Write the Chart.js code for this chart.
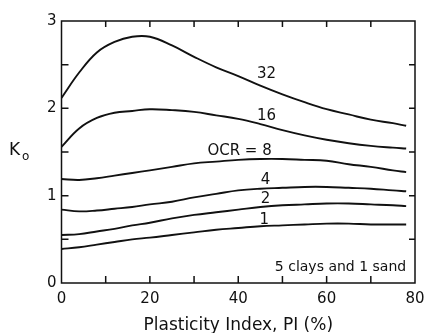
<!DOCTYPE html>
<html>
<head>
<meta charset="utf-8">
<script src="https://cdn.jsdelivr.net/npm/chart.js@4.4.1/dist/chart.umd.min.js"></script>
<style>
  body { margin: 0; background: #fff; }
  canvas { display: block; }
</style>
</head>
<body>
<canvas id="chart" width="425" height="333"></canvas>
<script>
// plasticity index (%) where each curve was read
const piValues = [0, 4, 8, 12, 16, 20, 25, 30, 35, 40, 45, 50, 55, 60, 65, 70, 75, 78];

// K0 for each OCR
const k0Ocr1  = [0.39, 0.41, 0.44, 0.47, 0.50, 0.52, 0.55, 0.58, 0.61, 0.63, 0.65, 0.66, 0.67, 0.68, 0.68, 0.67, 0.67, 0.67];
const k0Ocr2  = [0.55, 0.56, 0.59, 0.62, 0.66, 0.69, 0.74, 0.78, 0.81, 0.84, 0.87, 0.89, 0.90, 0.91, 0.91, 0.90, 0.89, 0.88];
const k0Ocr4  = [0.84, 0.82, 0.83, 0.85, 0.87, 0.90, 0.93, 0.98, 1.02, 1.06, 1.08, 1.09, 1.10, 1.10, 1.09, 1.08, 1.06, 1.05];
const k0Ocr8  = [1.19, 1.18, 1.20, 1.23, 1.26, 1.29, 1.33, 1.37, 1.39, 1.41, 1.42, 1.42, 1.41, 1.40, 1.36, 1.33, 1.29, 1.27];
const k0Ocr16 = [1.56, 1.77, 1.89, 1.95, 1.97, 1.99, 1.98, 1.96, 1.92, 1.88, 1.82, 1.75, 1.69, 1.64, 1.60, 1.57, 1.55, 1.54];
const k0Ocr32 = [2.12, 2.41, 2.64, 2.76, 2.82, 2.82, 2.72, 2.59, 2.47, 2.37, 2.26, 2.16, 2.07, 1.99, 1.93, 1.87, 1.83, 1.80];

const curveNames = ['1', '2', '4', 'OCR = 8', '16', '32'];
const curveValues = [k0Ocr1, k0Ocr2, k0Ocr4, k0Ocr8, k0Ocr16, k0Ocr32];

// where the curve names are written (data units)
const namePos = [[45.9, 0.72], [46.2, 0.96], [46.2, 1.18], [40.3, 1.51], [46.4, 1.91], [46.4, 2.39]];

const xTicks = [0, 20, 40, 60, 80];
const yTicks = [0, 1, 2, 3];
const noteText = '5 clays and 1 sand';

const FONT = '"DejaVu Sans", sans-serif';
const INK = '#111';

const datasets = curveValues.map((vals, i) => ({
    label: curveNames[i],
    data: piValues.map((p, j) => ({ x: p, y: vals[j] })),
    borderColor: INK,
    borderWidth: 1.9,
    pointRadius: 0,
    tension: 0.4,
    fill: false
}));

// frame with inward ticks, curve names and the y title
const framePlugin = {
    id: 'frame',
    afterDraw(chart) {
        const ctx = chart.ctx;
        const a = chart.chartArea;
        const x = chart.scales.x;
        const y = chart.scales.y;
        ctx.save();
        ctx.strokeStyle = INK;
        ctx.lineWidth = 1.5;
        ctx.strokeRect(a.left, a.top, a.right - a.left, a.bottom - a.top);

        ctx.beginPath();
        x.ticks.forEach(t => {
            if (t.value <= 0 || t.value >= 80) return;
            const px = x.getPixelForValue(t.value);
            ctx.moveTo(px, a.bottom); ctx.lineTo(px, a.bottom - 7);
            ctx.moveTo(px, a.top); ctx.lineTo(px, a.top + 6);
        });
        y.ticks.forEach(t => {
            if (t.value <= 0 || t.value >= 3) return;
            const py = y.getPixelForValue(t.value);
            ctx.moveTo(a.left, py); ctx.lineTo(a.left + 7, py);
            ctx.moveTo(a.right, py); ctx.lineTo(a.right - 6, py);
        });
        ctx.stroke();

        ctx.fillStyle = INK;
        ctx.textAlign = 'center';
        ctx.textBaseline = 'middle';
        ctx.font = '15px ' + FONT;
        curveNames.forEach((name, i) => {
            ctx.fillText(name, x.getPixelForValue(namePos[i][0]), y.getPixelForValue(namePos[i][1]));
        });

        ctx.textAlign = 'right';
        ctx.font = '14px ' + FONT;
        ctx.fillText(noteText, x.getPixelForValue(78), y.getPixelForValue(0.18));

        // K with subscript o
        ctx.textAlign = 'left';
        ctx.font = '17px ' + FONT;
        ctx.fillText('K', 9, 151);
        ctx.font = '12px ' + FONT;
        ctx.fillText('o', 22, 157);
        ctx.restore();
    }
};

new Chart(document.getElementById('chart'), {
    type: 'line',
    data: { datasets: datasets },
    options: {
        responsive: false,
        devicePixelRatio: 1,
        animation: false,
        layout: { padding: { left: 0, right: 10, top: 21, bottom: 0 } },
        plugins: { legend: { display: false }, tooltip: { enabled: false } },
        scales: {
            x: {
                type: 'linear',
                min: 0, max: 80,
                grid: { display: false, drawTicks: false },
                border: { display: false },
                ticks: {
                    stepSize: 10,
                    autoSkip: false,
                    maxRotation: 0,
                    padding: 7,
                    color: INK,
                    font: { family: FONT, size: 15 },
                    callback: v => xTicks.includes(v) ? String(v) : ''
                },
                title: {
                    display: true,
                    text: 'Plasticity Index, PI (%)',
                    color: INK,
                    font: { family: FONT, size: 17 },
                    padding: { top: 6, bottom: -3 }
                },
                afterFit: s => { s.height = 50; s.paddingLeft = 0; s.paddingRight = 0; }
            },
            y: {
                min: 0, max: 3,
                grid: { display: false, drawTicks: false },
                border: { display: false },
                ticks: {
                    stepSize: 0.5,
                    autoSkip: false,
                    padding: 5,
                    color: INK,
                    font: { family: FONT, size: 15 },
                    callback: v => yTicks.includes(v) ? String(v) : ''
                },
                afterFit: s => { s.width = 61.5; s.paddingTop = 0; s.paddingBottom = 0; }
            }
        }
    },
    plugins: [framePlugin]
});
</script>
</body>
</html>
